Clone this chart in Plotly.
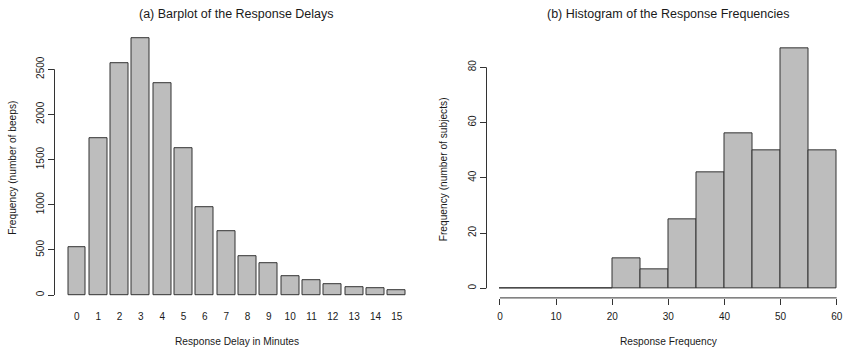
import plotly.graph_objects as go

# (a) response delays in minutes and number of beeps per delay
delay_minutes = [str(m) for m in range(16)]
beep_counts = [535, 1734, 2565, 2841, 2351, 1631, 978, 705, 432, 358, 210, 159, 125, 92, 74, 52]

# (b) histogram of response frequencies: bin edges and subject counts
freq_bin_edges = [0, 5, 10, 15, 20, 25, 30, 35, 40, 45, 50, 55, 60]
subject_counts = [0, 0, 0, 0, 11, 7, 25, 42, 56, 50, 87, 50]

W, H = 845, 349
FONT = "Liberation Sans, Arial, Helvetica, sans-serif"
TXT = "#1a1a1a"
FILL = "#bdbdbd"
EDGE = "#333333"


def px_x(p):
    return p / W


def px_y(p):
    return 1 - p / H


fig = go.Figure()

# barplot: bars of width 1 separated by 0.2 -> width 1/1.2 in index units
idx = list(range(len(beep_counts)))
fig.add_trace(go.Bar(
    x=idx, y=beep_counts, width=1 / 1.2,
    marker=dict(color=FILL, line=dict(color=EDGE, width=1)),
    xaxis="x", yaxis="y", showlegend=False,
))

# histogram drawn as adjacent bars over the bins
centers = [(a + b) / 2 for a, b in zip(freq_bin_edges[:-1], freq_bin_edges[1:])]
widths = [b - a for a, b in zip(freq_bin_edges[:-1], freq_bin_edges[1:])]
fig.add_trace(go.Bar(
    x=centers, y=subject_counts, width=widths,
    marker=dict(color=FILL, line=dict(color=EDGE, width=1)),
    xaxis="x2", yaxis="y2", showlegend=False,
))

ymax1 = max(beep_counts)
ymax2 = max(subject_counts)
xmin2, xmax2 = freq_bin_edges[0], freq_bin_edges[-1]
pad2 = 0.04 * (xmax2 - xmin2)
right_edge_val = xmax2 + (W - 836.7) / ((836.7 - 500.0) / (xmax2 - xmin2))

axis_font = dict(family=FONT, size=10, color=TXT)

fig.update_layout(
    width=W, height=H,
    margin=dict(l=0, r=0, t=0, b=0),
    paper_bgcolor="white", plot_bgcolor="white",
    bargap=0,
    font=dict(family=FONT, color=TXT),
    xaxis=dict(
        domain=[px_x(54.5), px_x(419.2)],
        range=[-1.05, len(beep_counts) - 1 + 1.05],
        tickmode="array", tickvals=idx, ticktext=delay_minutes,
        ticks="", showline=False, showgrid=False, zeroline=False,
        tickfont=axis_font, ticklabelstandoff=4,
    ),
    yaxis=dict(
        domain=[px_y(305.3), px_y(28.2)],
        range=[-0.04 * ymax1, 1.04 * ymax1],
        tickmode="array", tickvals=[0, 500, 1000, 1500, 2000, 2500],
        ticks="outside", ticklen=6, tickcolor=EDGE, tickwidth=1,
        tickangle=-90, showline=False, showgrid=False, zeroline=False,
        tickfont=axis_font, anchor="x",
    ),
    xaxis2=dict(
        domain=[px_x(486.5), 1.0],
        range=[xmin2 - pad2, right_edge_val],
        tickmode="array", tickvals=list(range(0, 61, 10)),
        ticks="outside", ticklen=6, tickcolor=EDGE, tickwidth=1,
        showline=False, showgrid=False, zeroline=False,
        tickfont=axis_font, anchor="y2", ticklabelstandoff=3,
    ),
    yaxis2=dict(
        domain=[px_y(297.9), px_y(38.35)],
        range=[-0.04 * ymax2, 1.04 * ymax2],
        tickmode="array", tickvals=[0, 20, 40, 60, 80],
        ticks="outside", ticklen=6, tickcolor=EDGE, tickwidth=1,
        tickangle=-90, showline=False, showgrid=False, zeroline=False,
        tickfont=axis_font, anchor="x2",
    ),
)

# axis lines spanning only the tick range, as in base R graphics
fig.add_shape(type="line", xref="x domain", yref="y", x0=0, x1=0,
              y0=0, y1=2500, line=dict(color=EDGE, width=1))
fig.add_shape(type="line", xref="x2 domain", yref="y2", x0=0, x1=0,
              y0=0, y1=80, line=dict(color=EDGE, width=1))
fig.add_shape(type="line", xref="x2", yref="y2 domain", x0=xmin2, x1=xmax2,
              y0=0, y1=0, line=dict(color=EDGE, width=1))

# titles and axis labels
ann = [
    dict(text="(a) Barplot of the Response Delays", x=px_x(236.9), y=px_y(14), size=12.5),
    dict(text="(b) Histogram of the Response Frequencies", x=px_x(668.3), y=px_y(14), size=12.5),
    dict(text="Response Delay in Minutes", x=px_x(236.7), y=px_y(341.7), size=10.2),
    dict(text="Response Frequency", x=px_x(668.7), y=px_y(341.7), size=10.2),
    dict(text="Frequency (number of beeps)", x=px_x(12.5), y=px_y(168.3), size=10.2, angle=-90),
    dict(text="Frequency (number of subjects)", x=px_x(444.3), y=px_y(169), size=10.2, angle=-90),
]
for a in ann:
    fig.add_annotation(
        text=a["text"], xref="paper", yref="paper", x=a["x"], y=a["y"],
        xanchor="center", yanchor="middle", showarrow=False,
        textangle=a.get("angle", 0),
        font=dict(family=FONT, size=a["size"], color=TXT),
    )

fig.write_html("out.html")
